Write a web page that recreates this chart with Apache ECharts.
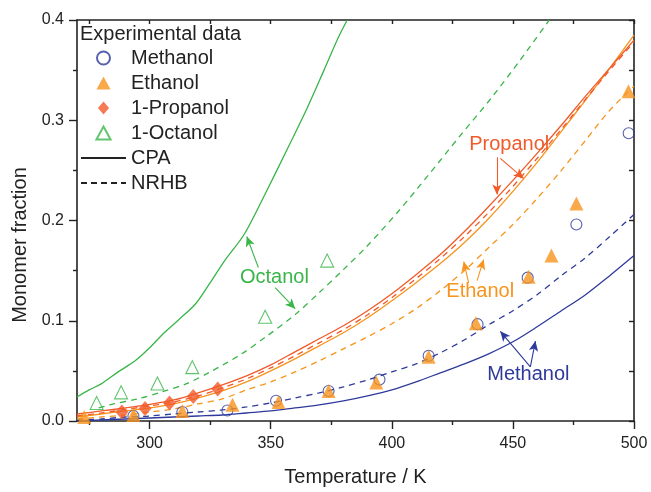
<!DOCTYPE html>
<html>
<head>
<meta charset="utf-8">
<script src="https://cdn.jsdelivr.net/npm/echarts@6/dist/echarts.min.js"></script>
<style>
  html, body { margin: 0; padding: 0; background: #fff; }
  #chart { width: 651px; height: 492px; }
</style>
</head>
<body>
<div id="chart"></div>
<script>
// experimental data
const methT = [293.3, 313.5, 332.1, 352.2, 373.9, 394.9, 415.2, 435.4, 456.1, 476.2, 497.8]
const methV = [0.005, 0.009, 0.0104, 0.0202, 0.030, 0.0413, 0.065, 0.0966, 0.143, 0.196, 0.287]
const ethT = [273, 293.3, 313.5, 334.2, 353.2, 373.9, 393.6, 415.2, 434.7, 456.5, 465.9, 476.2, 497.7]
const ethV = [0.004, 0.006, 0.010, 0.0163, 0.019, 0.030, 0.0384, 0.064, 0.0976, 0.144, 0.165, 0.217, 0.329]
const propT = [288.5, 298.1, 308.2, 318, 328.1]
const propV = [0.009, 0.0124, 0.0179, 0.0244, 0.032]
const octT = [278.1, 288.2, 303.2, 317.6, 347.7, 373.3]
const octV = [0.018, 0.0286, 0.0374, 0.0537, 0.104, 0.160]

// model curves
const tGrid = [270, 280, 290, 300, 310, 320, 330, 340, 350, 360, 370, 380, 390, 400, 410, 420, 430, 440, 450, 460, 470, 480, 490, 500]
const methCPA  = [0.000, 0.001, 0.002, 0.003, 0.004, 0.005, 0.006, 0.008, 0.010, 0.013, 0.016, 0.020, 0.025, 0.031, 0.039, 0.048, 0.057, 0.067, 0.079, 0.094, 0.110, 0.126, 0.145, 0.165]
const methNRHB = [0.001, 0.002, 0.004, 0.005, 0.007, 0.009, 0.011, 0.014, 0.018, 0.023, 0.028, 0.034, 0.041, 0.049, 0.057, 0.068, 0.081, 0.096, 0.110, 0.126, 0.145, 0.163, 0.184, 0.206]
const ethCPA   = [0.004, 0.007, 0.010, 0.013, 0.017, 0.023, 0.030, 0.039, 0.050, 0.062, 0.075, 0.088, 0.103, 0.120, 0.138, 0.157, 0.178, 0.202, 0.229, 0.258, 0.289, 0.320, 0.352, 0.385]
const ethNRHB  = [0.002, 0.004, 0.006, 0.009, 0.012, 0.017, 0.022, 0.031, 0.039, 0.049, 0.060, 0.072, 0.084, 0.097, 0.112, 0.130, 0.150, 0.173, 0.196, 0.222, 0.250, 0.280, 0.310, 0.334]
const propCPA  = [0.007, 0.010, 0.013, 0.0165, 0.021, 0.028, 0.036, 0.045, 0.056, 0.069, 0.082, 0.095, 0.110, 0.127, 0.146, 0.166, 0.189, 0.214, 0.240, 0.267, 0.295, 0.324, 0.352, 0.380]
const propNRHB = [0.005, 0.008, 0.0115, 0.015, 0.019, 0.025, 0.033, 0.042, 0.053, 0.065, 0.078, 0.091, 0.106, 0.123, 0.142, 0.162, 0.184, 0.208, 0.234, 0.262, 0.291, 0.321, 0.350, 0.378]
const octCpaT  = [270, 275, 280, 287, 294, 300, 306, 312, 319, 325, 331, 339, 348, 357, 365, 372, 378, 381.6]
const octCPA   = [0.024, 0.031, 0.037, 0.049, 0.060, 0.073, 0.088, 0.101, 0.117, 0.138, 0.160, 0.186, 0.228, 0.272, 0.312, 0.350, 0.383, 0.400]
const octNrhbT = [279, 285, 295, 305, 315, 325, 338, 348, 360, 370, 380, 390, 403, 415, 428, 441, 453, 465]
const octNRHB  = [0.013, 0.017, 0.022, 0.029, 0.037, 0.049, 0.067, 0.084, 0.106, 0.128, 0.151, 0.175, 0.210, 0.245, 0.284, 0.322, 0.360, 0.400]

const xMajor = [300, 350, 400, 450, 500]
const xMinor = [275, 325, 375, 425, 475]

const BLUE = '#2e3a9b'
const ORANGE = '#f7941d'
const RED = '#f15a29'
const GREEN = '#39b54a'
const FONT = 'Liberation Sans, Arial, sans-serif'

// legend icon shapes (kept square in the legend)
const ICON_CIRCLE = 'path://M12,6 A6,6 0 1,1 0,6 A6,6 0 1,1 12,6 Z'
const ICON_TRI = 'path://M6,0 L12,11 L0,11 Z'
const ICON_DIAMOND = 'path://M6,0 L12,7 L6,14 L0,7 Z'

const zip = (xs, ys) => xs.map((x, i) => [x, ys[i]])

const curve = (name, xs, ys, color, dashed, extra) => Object.assign({
    name,
    type: 'line',
    data: zip(xs, ys),
    showSymbol: false,
    symbol: 'none',
    smooth: 0.3,
    clip: true,
    silent: true,
    z: 2,
    lineStyle: { color, width: 1.3, type: dashed ? [6, 5] : 'solid' },
}, extra || {})

// annotation label + arrows in data coordinates
const note = (text, color, at, arrows) => ({
    markPoint: {
        silent: true,
        symbol: 'circle',
        symbolSize: 1,
        itemStyle: { color: 'rgba(0,0,0,0)' },
        label: { show: true, position: 'inside', formatter: text, color, fontSize: 20, fontFamily: FONT },
        data: [{ coord: at }],
    },
    markLine: {
        silent: true,
        symbol: ['none', 'arrow'],
        symbolSize: [7, 10],
        label: { show: false },
        lineStyle: { color, width: 1.1, type: 'solid' },
        data: arrows.map(a => [{ coord: a[0] }, { coord: a[1] }]),
    },
})

const chart = echarts.init(document.getElementById('chart'))

chart.setOption({
    animation: false,
    textStyle: { fontFamily: FONT },
    grid: { left: 77, right: 17, top: 20, bottom: 62 },
    title: {
        text: 'Experimental data',
        left: 80, top: 24,
        padding: 0,
        textStyle: { fontSize: 20, fontWeight: 'normal', color: '#222', fontFamily: FONT },
    },
    legend: {
        orient: 'vertical',
        left: 80, top: 48,
        padding: 0,
        itemWidth: 45, itemHeight: 13, itemGap: 5,
        symbolKeepAspect: true,
        textStyle: { fontSize: 20, color: '#222', lineHeight: 20, fontFamily: FONT },
        data: [
            { name: 'Methanol', icon: ICON_CIRCLE },
            { name: 'Ethanol', icon: ICON_TRI },
            { name: '1-Propanol', icon: ICON_DIAMOND },
            { name: '1-Octanol', icon: ICON_TRI },
            'CPA',
            'NRHB',
        ],
    },
    xAxis: [{
        type: 'value', min: 270, max: 500, position: 'bottom',
        name: 'Temperature / K', nameLocation: 'middle', nameGap: 46,
        nameTextStyle: { fontSize: 20, color: '#222' },
        axisLine: { lineStyle: { color: '#222', width: 1.6 } },
        axisTick: { customValues: xMajor, length: 8, lineStyle: { color: '#222', width: 1.4 } },
        axisLabel: { customValues: xMajor, fontSize: 16, color: '#222', margin: 15 },
        splitLine: { show: false },
    }, {
        type: 'value', min: 270, max: 500, position: 'bottom',
        axisLine: { show: false },
        axisTick: { customValues: xMinor, length: 4, lineStyle: { color: '#222', width: 1.4 } },
        axisLabel: { show: false },
        splitLine: { show: false },
    }, {
        type: 'value', min: 270, max: 500, position: 'top',
        axisLine: { lineStyle: { color: '#222', width: 1.6 } },
        axisTick: { inside: true, customValues: xMajor.concat(xMinor), length: 4, lineStyle: { color: '#222', width: 1.4 } },
        axisLabel: { show: false },
        splitLine: { show: false },
    }],
    yAxis: [{
        type: 'value', min: 0, max: 0.4, interval: 0.1, position: 'left',
        axisLine: { lineStyle: { color: '#222', width: 1.6 } },
        axisTick: { length: 8, lineStyle: { color: '#222', width: 1.4 } },
        minorTick: { show: true, splitNumber: 2, length: 4, lineStyle: { color: '#222', width: 1.4 } },
        axisLabel: { fontSize: 16, color: '#222', margin: 13, formatter: v => v.toFixed(1) },
        splitLine: { show: false },
    }, {
        type: 'value', min: 0, max: 0.4, interval: 0.05, position: 'right',
        axisLine: { show: true, lineStyle: { color: '#222', width: 1.6 } },
        axisTick: { show: true, inside: true, length: 5, lineStyle: { color: '#222', width: 1.4 } },
        axisLabel: { show: false },
        splitLine: { show: false },
    }],
    graphic: [{
        type: 'text',
        x: 20, y: 245,
        rotation: Math.PI / 2,
        style: { text: 'Monomer fraction', fontSize: 20, fill: '#222', align: 'center', verticalAlign: 'middle', fontFamily: FONT },
    }],
    series: [
        curve('Methanol CPA', tGrid, methCPA, BLUE, false,
            note('Methanol', BLUE, [456.4, 0.046], [[[457.2, 0.054], [444.8, 0.0895]], [[457.2, 0.054], [459.3, 0.0797]]])),
        curve('Methanol NRHB', tGrid, methNRHB, BLUE, true),
        curve('Ethanol NRHB', tGrid, ethNRHB, ORANGE, true,
            note('Ethanol', ORANGE, [436.5, 0.129], [[[431.7, 0.138], [429.7, 0.159]], [[435.2, 0.140], [437.9, 0.161]]])),
        curve('Ethanol CPA', tGrid, ethCPA, ORANGE, false),
        curve('Propanol NRHB', tGrid, propNRHB, RED, true),
        curve('Propanol CPA', tGrid, propCPA, RED, false,
            note('Propanol', RED, [448.5, 0.276], [[[443.4, 0.263], [443.4, 0.226]], [[444.8, 0.262], [454.4, 0.242]]])),
        curve('Octanol NRHB', octNrhbT, octNRHB, GREEN, true),
        curve('Octanol CPA', octCpaT, octCPA, GREEN, false,
            note('Octanol', GREEN, [351.5, 0.143], [[[344.9, 0.153], [340.1, 0.184]], [[351.8, 0.133], [360.1, 0.112]]])),
        // legend-only entries for line styles
        { name: 'CPA', type: 'line', data: [], symbol: 'none', lineStyle: { color: '#222', width: 1.3 }, itemStyle: { color: 'rgba(0,0,0,0)', opacity: 0 } },
        { name: 'NRHB', type: 'line', data: [], symbol: 'none', lineStyle: { color: '#222', width: 1.3, type: [6, 4] }, itemStyle: { color: 'rgba(0,0,0,0)', opacity: 0 } },
        {
            name: 'Methanol', type: 'scatter', data: zip(methT, methV), symbol: 'circle', symbolSize: 11, z: 3,
            itemStyle: { color: 'rgba(255,255,255,0)', borderColor: BLUE, borderWidth: 1.1 },
        },
        {
            name: 'Ethanol', type: 'scatter', data: zip(ethT, ethV), symbol: 'triangle', symbolSize: 14, z: 4,
            itemStyle: { color: ORANGE },
        },
        {
            name: '1-Propanol', type: 'scatter', data: zip(propT, propV), symbol: 'diamond', symbolSize: [13, 15], z: 4,
            itemStyle: { color: RED },
        },
        {
            name: '1-Octanol', type: 'scatter', data: zip(octT, octV), symbol: 'triangle', symbolSize: 13, z: 4,
            itemStyle: { color: 'rgba(255,255,255,0)', borderColor: GREEN, borderWidth: 1.1 },
        },
    ],
})
</script>
</body>
</html>
